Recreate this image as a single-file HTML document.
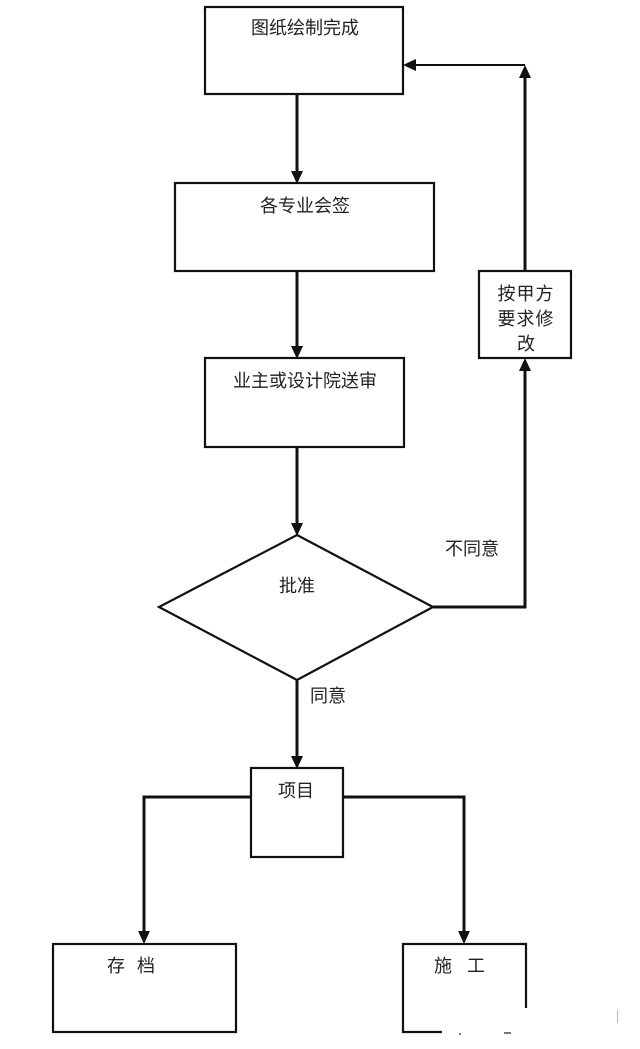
<!DOCTYPE html>
<html>
<head>
<meta charset="utf-8">
<style>
  html, body { margin:0; padding:0; background:#fff; }
  body { width:640px; height:1049px; overflow:hidden; }
  svg { display:block; }
  text { font-family: "Liberation Sans", "Noto Sans CJK SC", sans-serif; font-size:18px; fill:#222; }
</style>
</head>
<body>
<svg width="640" height="1049" viewBox="0 0 640 1049" xmlns="http://www.w3.org/2000/svg">
  <rect x="0" y="0" width="640" height="1049" fill="#fff"/>

  <!-- boxes -->
  <g fill="none" stroke="#111" stroke-width="2.2">
    <rect x="205" y="7" width="198" height="87"/>
    <rect x="175" y="183" width="259" height="88"/>
    <rect x="205" y="358" width="199" height="89"/>
    <rect x="479" y="271" width="92" height="87"/>
    <polygon points="297,535 433,607 297,680 159,607"/>
    <rect x="251" y="768" width="92" height="89"/>
    <rect x="53" y="944" width="183" height="88"/>
    <!-- 施工 box (partially covered by watermark) -->
    <polyline points="526,1008 526,944 403,944 403,1032 442,1032"/>
  </g>

  <!-- connectors -->
  <g fill="none" stroke="#111" stroke-width="3">
    <line x1="297" y1="94" x2="297" y2="172"/>
    <line x1="297" y1="271" x2="297" y2="347"/>
    <line x1="297" y1="447" x2="297" y2="524"/>
    <line x1="297" y1="680" x2="297" y2="757"/>
    <polyline points="433,607 525,607 525,370"/>
    <line x1="525" y1="271" x2="525" y2="77"/>
    <polyline points="251,797 144,797 144,932"/>
    <polyline points="343,797 464,797 464,932"/>
  </g>
  <line x1="525" y1="65" x2="414" y2="65" stroke="#111" stroke-width="2"/>

  <!-- arrowheads -->
  <g fill="#111">
    <polygon points="291,171 303,171 297,184"/>
    <polygon points="291,346 303,346 297,359"/>
    <polygon points="291,523 303,523 297,536"/>
    <polygon points="291,756 303,756 297,769"/>
    <polygon points="519,371 531,371 525,358"/>
    <polygon points="519,78 531,78 525,65"/>
    <polygon points="416,59 416,71 403,65"/>
    <polygon points="138,931 150,931 144,944"/>
    <polygon points="458,931 470,931 464,944"/>
  </g>

  <!-- watermark remnants -->
  <g fill="#777">
    <rect x="459" y="1033" width="2" height="2"/>
    <rect x="504" y="1032" width="7" height="2"/>
  </g>
  <rect x="617" y="1010" width="1" height="13" fill="#bbb"/>

  <!-- labels -->
  <g text-anchor="middle">
    <text x="305" y="34" font-size="19">图纸绘制完成</text>
    <text x="305" y="212" font-size="19">各专业会签</text>
    <text x="305" y="387" font-size="19">业主或设计院送审</text>
    <text x="297" y="592" font-size="19">批准</text>
    <text x="472" y="555" font-size="19">不同意</text>
    <text x="328" y="702" font-size="18">同意</text>
    <text x="296" y="797" font-size="18">项目</text>
    <text x="526" y="300" font-size="19" letter-spacing="1">按甲方</text>
    <text x="526" y="325" font-size="19" letter-spacing="1">要求修</text>
    <text x="526" y="350" font-size="19">改</text>
  </g>
  <text x="107" y="972" font-size="19">存</text>
  <text x="137" y="972" font-size="19">档</text>
  <text x="434" y="972" font-size="19">施</text>
  <text x="467" y="972" font-size="19">工</text>
</svg>
</body>
</html>
